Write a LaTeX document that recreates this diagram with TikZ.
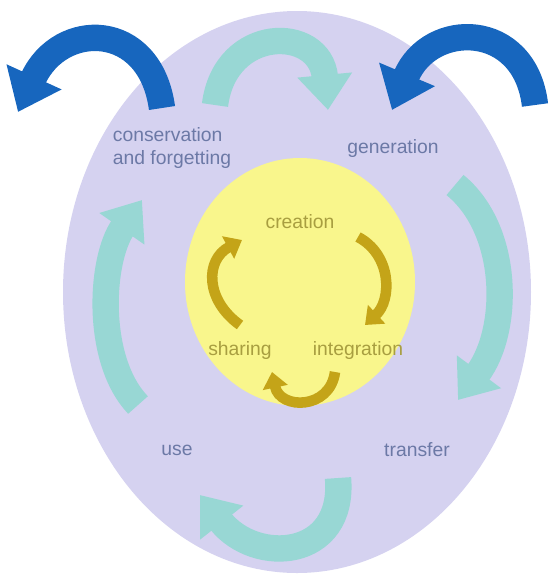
\documentclass[tikz,border=0pt]{standalone}
\usepackage{fontspec}
\setmainfont{Liberation Sans}
\usepackage{tikz}
\usetikzlibrary{arrows.meta}
\usepackage{xcolor}
\definecolor{lavender}{HTML}{D5D2F0}
\definecolor{lemon}{HTML}{F9F68C}
\definecolor{seafoam}{HTML}{98D7D4}
\definecolor{seaedge}{HTML}{86BCCB}
\definecolor{cobalt}{HTML}{1766BE}
\definecolor{ochre}{HTML}{C4A418}
\definecolor{outtext}{HTML}{6C79A6}
\definecolor{intext}{HTML}{A89E40}

\begin{document}
\begin{tikzpicture}[x=0.02cm,y=-0.02cm,font=\fontsize{11}{13}\selectfont,line cap=butt,
  outlabel/.style={text=outtext,inner sep=1pt},
  inlabel/.style={text=intext,inner sep=1pt},
  cyclearrow/.style={draw=seafoam,line width=15pt,-{Triangle[length=20pt,width=30pt]}},
  flowarrow/.style={draw=cobalt,line width=15pt,-{Triangle[length=22pt,width=33pt]}},
  innerarrow/.style={draw=ochre,line width=6pt,-{Triangle[length=9pt,width=14pt]}}]
\useasboundingbox (0,0) rectangle (557,579);
\fill[lavender] (297,292) ellipse [x radius=234,y radius=281];
\fill[lemon] (300,282) ellipse [x radius=115,y radius=124];
% labels
\node[outlabel,align=left] (conserv) at (172,148) {conservation\\and forgetting};
\node[outlabel] (gener) at (393,148) {generation};
\node[outlabel] (transf) at (417,450) {transfer};
\node[outlabel] (use) at (177,450) {use};
\node[inlabel] (creat) at (300,222) {creation};
\node[inlabel] (shar) at (240,350) {sharing};
\node[inlabel] (integr) at (358,350) {integration};
% arrow ends
\coordinate (topA) at (215,105);   \coordinate (topB) at (328,110);
\coordinate (rgtA) at (455,185);   \coordinate (rgtB) at (458,400);
\coordinate (botA) at (338,478);   \coordinate (botB) at (200,495);
\coordinate (lftA) at (138,405);   \coordinate (lftB) at (142,200);
\coordinate (outA) at (162,108);   \coordinate (outB) at (18,112);
\coordinate (inA) at (535,105);    \coordinate (inB) at (392,110);
\coordinate (gR1) at (358,237);    \coordinate (gR2) at (365,325);
\coordinate (gB1) at (335,372);    \coordinate (gB2) at (272,372);
\coordinate (gL1) at (240,325);    \coordinate (gL2) at (242,240);
\draw[cyclearrow] (topA) .. controls (225,25) and (320,25) .. (topB);
\draw[cyclearrow] (rgtA) .. controls (510,230) and (510,330) .. (rgtB);
\draw[cyclearrow] (botA) .. controls (345,560) and (255,565) .. (botB);
\draw[cyclearrow] (lftA) .. controls (95,360) and (100,260) .. (lftB);
\draw[flowarrow] (outA) .. controls (150,20) and (60,20) .. (outB);
\draw[flowarrow] (inA) .. controls (525,20) and (430,20) .. (inB);
\draw[innerarrow] (gR1) .. controls (392,255) and (392,300) .. (gR2);
\draw[innerarrow] (gB1) .. controls (330,410) and (280,410) .. (gB2);
\draw[innerarrow] (gL1) .. controls (205,300) and (205,260) .. (gL2);
\end{tikzpicture}
\end{document}
